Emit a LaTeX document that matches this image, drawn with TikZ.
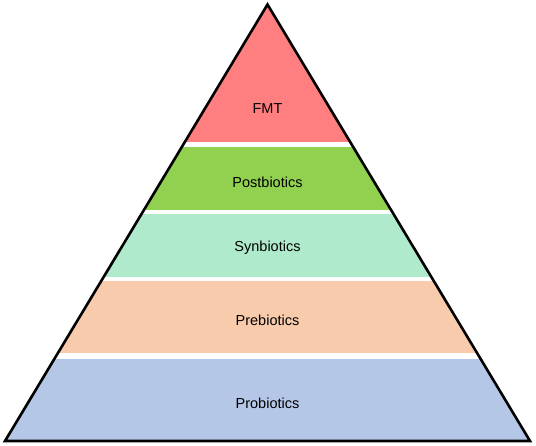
\documentclass[tikz,border=0pt]{standalone}
\usepackage{fontspec}
\setmainfont{Liberation Sans}
\definecolor{fmtred}{HTML}{FF7F80}
\definecolor{postgreen}{HTML}{92D050}
\definecolor{synteal}{HTML}{AEEACB}
\definecolor{prepeach}{HTML}{F8CBAD}
\definecolor{problue}{HTML}{B4C7E7}
\begin{document}
\begin{tikzpicture}[x=1pt,y=-1pt,
    layer/.style={font=\fontsize{14.5}{17}\selectfont}]
  \useasboundingbox (0,0) rectangle (536,445);
  \coordinate (baseL) at (5,441);
  \coordinate (apex) at (267.5,4.5);
  \coordinate (baseR) at (530,441);
  % bands
  \begin{scope}
    \clip (baseL) -- (apex) -- (baseR) -- cycle;
    \fill[fmtred] (0,0) rectangle (536,142);
    \fill[postgreen] (0,146.5) rectangle (536,209.5);
    \fill[synteal] (0,213.5) rectangle (536,277);
    \fill[prepeach] (0,281) rectangle (536,353);
    \fill[problue] (0,359) rectangle (536,445);
  \end{scope}
  % outline
  \draw[line width=2.6pt] (baseL) -- (apex) -- (baseR) -- cycle;
  \node[layer] (fmt) at (267.5,109) {FMT};
  \node[layer] (post) at (267.5,182) {Postbiotics};
  \node[layer] (syn) at (267.5,248) {Synbiotics};
  \node[layer] (pre) at (267.5,320.5) {Prebiotics};
  \node[layer] (pro) at (267.5,403) {Probiotics};
\end{tikzpicture}
\end{document}
